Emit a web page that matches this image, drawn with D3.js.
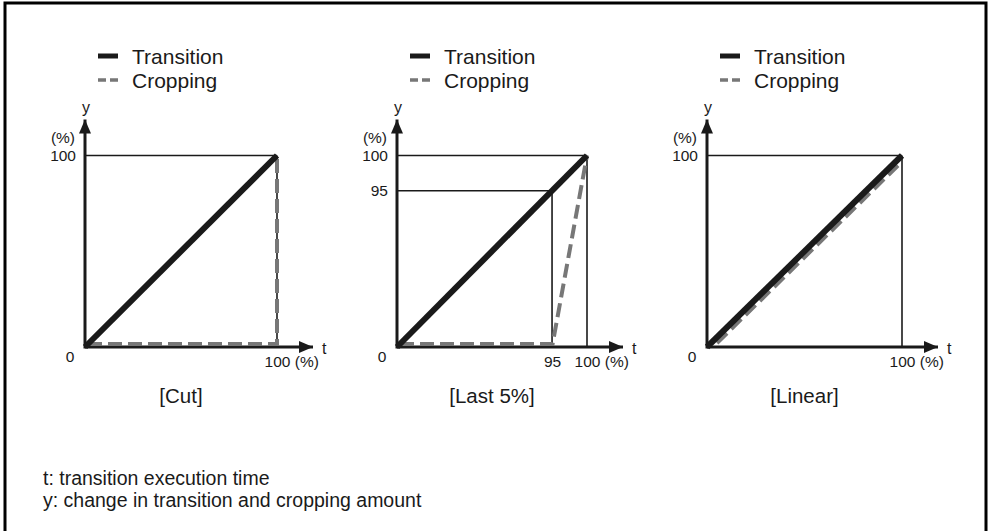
<!DOCTYPE html>
<html>
<head>
<meta charset="utf-8">
<script src="https://cdn.jsdelivr.net/npm/d3@7"></script>
<style>
  body { margin: 0; background: #fff; }
  svg text { font-family: "Liberation Sans", Arial, sans-serif; fill: #1a1a1a; }
</style>
</head>
<body>
<svg id="chart"></svg>
<script>
// panel names, shown under each chart
var panelTitles = ["[Cut]", "[Last 5%]", "[Linear]"];

// transition is the same straight line everywhere
var transitionPts = [[0, 0], [100, 100]];

// cropping amount per panel (t, y)
var cropCut = [[0, 0], [100, 0], [100, 100]];
var cropLast = [[0, 0], [95, 0], [100, 100]];
var cropLinear = [[0, 0], [100, 100]];
var cropSeries = [cropCut, cropLast, cropLinear];

// tick values on each axis
var xTickValues = [[100], [95, 100], [100]];
var yTickValues = [[100], [95, 100], [100]];

// thin guide lines: [t1, y1, t2, y2]
var guides = [
  [[0, 100, 100, 100], [100, 0, 100, 100]],
  [[0, 100, 100, 100], [100, 0, 100, 100], [0, 95, 95, 95], [95, 0, 95, 95]],
  [[0, 100, 100, 100], [100, 0, 100, 100]]
];

var legendLabels = ["Transition", "Cropping"];
var footnotes = ["t: transition execution time", "y: change in transition and cropping amount"];

// the drawing is schematic, 95 sits at ~82% of the axis
var breaks = [[0, 100], [0, 95, 100], [0, 100]];
var breakFrac = [[0, 1], [0, 0.816, 1], [0, 1]];

var width = 988, height = 531;
var originX = [85, 397, 707],
  plotW = [192, 190, 195],
  y0 = 347, plotH = 191.5;

// small pixel nudges so the dashed cropping line stays visible next to the solid one
var cropNudge = [
  {x0: 3, x1: 0, y0: -3, y1: 0},
  {x0: 3, x1: 0, y0: -3, y1: 0},
  {x0: 10, x1: -4, y0: -4, y1: 10}
];

var dark = "#1a1a1a", grey = "#777777";

var svg = d3.select("#chart")
  .attr("width", width)
  .attr("height", height);

// arrow head marker
svg.append("defs").append("marker")
  .attr("id", "arrow")
  .attr("viewBox", "0 -6 14 12")
  .attr("refX", 14)
  .attr("refY", 0)
  .attr("markerWidth", 14)
  .attr("markerHeight", 12)
  .attr("markerUnits", "userSpaceOnUse")
  .attr("orient", "auto")
  .append("path")
  .attr("d", "M0,-6L14,0L0,6Z")
  .attr("fill", dark);

// outer frame (open at the bottom)
svg.append("path")
  .attr("d", "M5," + height + "V3H986V" + height)
  .attr("fill", "none")
  .attr("stroke", "#000")
  .attr("stroke-width", 3);

panelTitles.forEach(function(title, i) {
  var g = svg.append("g")
    .attr("transform", "translate(" + originX[i] + ",0)");
  var w = plotW[i];

  var x = d3.scaleLinear()
    .domain(breaks[i])
    .range(breakFrac[i].map(function(f) { return f * w; }));
  var y = d3.scaleLinear()
    .domain(breaks[i])
    .range(breakFrac[i].map(function(f) { return y0 - f * plotH; }));

  var n = cropNudge[i];
  var cx = d3.scaleLinear()
    .domain(breaks[i])
    .range(breakFrac[i].map(function(f) { return f * w + n.x0 * (1 - f) + n.x1 * f; }));
  var cy = d3.scaleLinear()
    .domain(breaks[i])
    .range(breakFrac[i].map(function(f) { return y0 - f * plotH + n.y0 * (1 - f) + n.y1 * f; }));

  // guide lines
  g.selectAll(".guide")
    .data(guides[i]).enter()
    .append("line")
    .attr("x1", function(d) { return x(d[0]); })
    .attr("y1", function(d) { return y(d[1]); })
    .attr("x2", function(d) { return x(d[2]); })
    .attr("y2", function(d) { return y(d[3]); })
    .attr("stroke", dark)
    .attr("stroke-width", 1.6);

  // x axis
  var xAxis = g.append("g")
    .attr("transform", "translate(0," + y0 + ")")
    .call(d3.axisBottom(x).tickValues(xTickValues[i]).tickSize(0).tickPadding(9));
  xAxis.select(".domain").remove();
  xAxis.selectAll("text")
    .style("font-size", "15.5px")
    .attr("fill", dark)
    .each(function(d) {
      if (d === 100) {
        var t = d3.select(this);
        var wd = this.getComputedTextLength();
        t.attr("text-anchor", "start").attr("x", -wd / 2).text("100 (%)");
      }
    });

  // y axis
  var yAxis = g.append("g")
    .call(d3.axisLeft(y).tickValues(yTickValues[i]).tickSize(0).tickPadding(9));
  yAxis.select(".domain").remove();
  yAxis.selectAll("text")
    .style("font-size", "15.5px")
    .attr("fill", dark);

  g.append("text")
    .attr("x", -10)
    .attr("y", y(100) - 18)
    .attr("text-anchor", "end")
    .attr("dominant-baseline", "central")
    .style("font-size", "15.5px")
    .text("(%)");

  g.append("text")
    .attr("x", -15)
    .attr("y", y0 + 9)
    .attr("text-anchor", "middle")
    .attr("dominant-baseline", "central")
    .style("font-size", "15.5px")
    .text("0");

  // axis lines with arrows
  var xEnd = w + 36, yEnd = y(100) - 36;
  g.append("line")
    .attr("x1", 0).attr("y1", y0)
    .attr("x2", xEnd).attr("y2", y0)
    .attr("stroke", dark).attr("stroke-width", 3)
    .attr("marker-end", "url(#arrow)");
  g.append("line")
    .attr("x1", 0).attr("y1", y0 + 1.5)
    .attr("x2", 0).attr("y2", yEnd)
    .attr("stroke", dark).attr("stroke-width", 3)
    .attr("marker-end", "url(#arrow)");

  g.append("text")
    .attr("x", xEnd + 9)
    .attr("y", y0 + 1)
    .attr("dominant-baseline", "central")
    .style("font-size", "16px")
    .text("t");
  g.append("text")
    .attr("x", 1)
    .attr("y", yEnd - 12)
    .attr("text-anchor", "middle")
    .attr("dominant-baseline", "central")
    .style("font-size", "16px")
    .text("y");

  // cropping (dashed)
  g.append("path")
    .datum(cropSeries[i])
    .attr("d", d3.line().x(function(d) { return cx(d[0]); }).y(function(d) { return cy(d[1]); }))
    .attr("fill", "none")
    .attr("stroke", grey)
    .attr("stroke-width", 4)
    .attr("stroke-dasharray", "14,6");

  // transition (solid)
  g.append("path")
    .datum(transitionPts)
    .attr("d", d3.line().x(function(d) { return x(d[0]); }).y(function(d) { return y(d[1]); }))
    .attr("fill", "none")
    .attr("stroke", dark)
    .attr("stroke-width", 6);

  // legend
  var leg = g.append("g");
  leg.append("line")
    .attr("x1", 13).attr("x2", 33)
    .attr("y1", 56).attr("y2", 56)
    .attr("stroke", dark).attr("stroke-width", 5);
  leg.append("line")
    .attr("x1", 13).attr("x2", 33)
    .attr("y1", 80).attr("y2", 80)
    .attr("stroke", grey).attr("stroke-width", 3.5)
    .attr("stroke-dasharray", "8,4");
  leg.selectAll(".lg")
    .data(legendLabels).enter()
    .append("text")
    .attr("x", 47)
    .attr("y", function(d, k) { return 56 + k * 24; })
    .attr("dominant-baseline", "central")
    .style("font-size", "21px")
    .text(function(d) { return d; });

  // title under the chart
  g.append("text")
    .attr("x", w / 2)
    .attr("y", 395)
    .attr("text-anchor", "middle")
    .attr("dominant-baseline", "central")
    .style("font-size", "20.5px")
    .text(title);
});

svg.selectAll(".foot")
  .data(footnotes).enter()
  .append("text")
  .attr("x", 43)
  .attr("y", function(d, k) { return 478 + k * 22; })
  .attr("dominant-baseline", "central")
  .style("font-size", "19.5px")
  .text(function(d) { return d; });
</script>
</body>
</html>
